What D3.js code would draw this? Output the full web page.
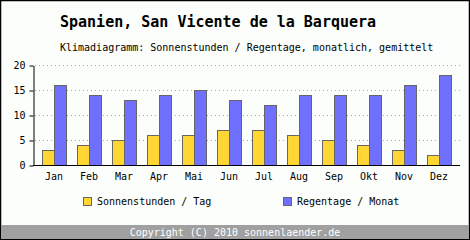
<!DOCTYPE html>
<html><head><meta charset="utf-8">
<script src="https://cdn.jsdelivr.net/npm/d3@7"></script>
<style>body{margin:0;background:#fff}svg{display:block}text{font-family:"DejaVu Sans Mono",monospace}</style>
</head><body>
<svg id="c" width="470" height="240"></svg>
<script>
const months = ["Jan","Feb","Mar","Apr","Mai","Jun","Jul","Aug","Sep","Okt","Nov","Dez"];
const sunHours = [3,4,5,6,6,7,7,6,5,4,3,2];
const rainDays = [16,14,13,14,15,13,12,14,14,14,16,18];
const yTicks = [0,5,10,15,20];
const seriesNames = ["Sonnenstunden / Tag","Regentage / Monat"];
const colors = ["#ffd633","#7070ff"];

const svg = d3.select("#c");
svg.append("rect").attr("x",0.5).attr("y",0.5).attr("width",469).attr("height",239).attr("fill","#fbfefb").attr("stroke","#000").attr("stroke-width",1.5);
svg.append("rect").attr("x",1).attr("y",225).attr("width",468).attr("height",14).attr("fill","#a0a0a0");
svg.append("text").attr("x",235).attr("y",236).attr("text-anchor","middle").attr("fill","#fff").style("font-size","10px").text("Copyright (C) 2010 sonnenlaender.de");

svg.append("text").attr("x",60).attr("y",27).style("font-size","15px").style("font-weight","bold").text("Spanien, San Vicente de la Barquera");
svg.append("text").attr("x",60).attr("y",51).style("font-size","10px").text("Klimadiagramm: Sonnenstunden / Regentage, monatlich, gemittelt");

const x0 = 33, x1 = 460;
const x = d3.scaleBand().domain(months).range([36.5, 456.5]).paddingInner(0.314).paddingOuter(0.157);
const y = d3.scaleLinear().domain([0,20]).range([165,65]);

const grid = svg.append("g");
grid.selectAll("line").data(yTicks.filter(d=>d>0)).join("line")
  .attr("x1",x0+2).attr("x2",x1).attr("y1",d=>y(d)+0.5).attr("y2",d=>y(d)+0.5)
  .attr("stroke","#aaa").attr("stroke-dasharray","1,3");

const bw = x.bandwidth()/2;
const g = svg.append("g");
g.selectAll("rect.s").data(months).join("rect").attr("class","s")
  .attr("x",(d)=>x(d)+0.5).attr("width",bw).attr("y",(d,i)=>y(sunHours[i])+0.5).attr("height",(d,i)=>y(0)-y(sunHours[i]))
  .attr("fill",colors[0]).attr("stroke","#666");
g.selectAll("rect.r").data(months).join("rect").attr("class","r")
  .attr("x",(d)=>x(d)+bw+0.5).attr("width",bw).attr("y",(d,i)=>y(rainDays[i])+0.5).attr("height",(d,i)=>y(0)-y(rainDays[i]))
  .attr("fill",colors[1]).attr("stroke","#666");

const ya = svg.append("g").attr("transform",`translate(${x0+0.5},0.5)`)
  .call(d3.axisLeft(y).tickValues(yTicks).tickSize(4).tickPadding(4).tickSizeOuter(0));
ya.select(".domain").attr("stroke","#000");
ya.selectAll("text").style("font-size","10px").style("font-family","DejaVu Sans Mono").attr("fill","#000");

svg.append("line").attr("x1",x0).attr("x2",x1).attr("y1",y(0)+0.5).attr("y2",y(0)+0.5).attr("stroke","#000");

const xa = svg.append("g").attr("transform",`translate(0,${y(0)})`)
  .call(d3.axisBottom(x).tickSize(0).tickPadding(8));
xa.select(".domain").remove();
xa.selectAll("text").style("font-size","10px").style("font-family","DejaVu Sans Mono").attr("fill","#000")
  .attr("transform",`translate(${bw/2 - bw/2},0)`);

const lg = svg.append("g");
const lx = [83,283];
seriesNames.forEach((n,i)=>{
  lg.append("rect").attr("x",lx[i]+0.5).attr("y",197.5).attr("width",8).attr("height",8).attr("fill",colors[i]).attr("stroke","#666");
  lg.append("text").attr("x",lx[i]+14).attr("y",205).style("font-size","10px").text(n);
});
</script>
</body></html>
